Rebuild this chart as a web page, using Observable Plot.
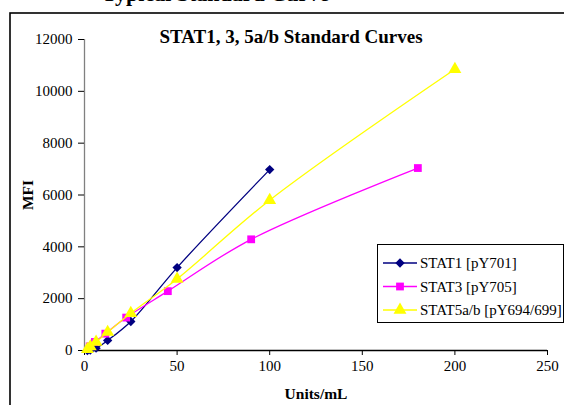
<!DOCTYPE html>
<html>
<head>
<meta charset="utf-8">
<script src="https://cdn.jsdelivr.net/npm/d3@7"></script>
<script src="https://cdn.jsdelivr.net/npm/@observablehq/plot@0.6"></script>
<style>
  html, body { margin: 0; padding: 0; background: #fff; }
  #chart { position: relative; width: 564px; height: 405px; overflow: hidden; }
</style>
</head>
<body>
<div id="chart"></div>
<script>
const seriesNames = ["STAT1 [pY701]", "STAT3 [pY705]", "STAT5a/b [pY694/699]"];
const seriesColors = ["#000080", "#FF00FF", "#FFFF00"];
const seriesSymbols = ["diamond2", "square", "triangle"];

const stat1Units = [1.56, 3.13, 6.25, 12.5, 25, 50, 100];
const stat1MFI   = [0, 20, 90, 390, 1120, 3200, 6980];

const stat3Units = [2.8, 5.6, 11.25, 22.5, 45, 90, 180];
const stat3MFI   = [160, 330, 650, 1270, 2290, 4290, 7040];

const stat5Units = [1.56, 3.13, 6.25, 12.5, 25, 50, 100, 200];
const stat5MFI   = [50, 150, 330, 710, 1440, 2760, 5800, 10850];

const xTicks = [0, 50, 100, 150, 200, 250];
const yTicks = [0, 2000, 4000, 6000, 8000, 10000, 12000];

const mainTitle = "Typical Standard Curve";
const chartTitle = "STAT1, 3, 5a/b Standard Curves";
const xLabel = "Units/mL";
const yLabel = "MFI";

const toRows = (u, v) => u.map((x, i) => ({x, y: v[i]}));
const series = [toRows(stat1Units, stat1MFI), toRows(stat3Units, stat3MFI), toRows(stat5Units, stat5MFI)];
const radii = [4.2, 4.4, 4.8];

const marks = [
  // outer chart border (its right and bottom edges fall outside the picture)
  Plot.frame({stroke: "#000", strokeWidth: 1.6, insetLeft: -74.5, insetTop: -26.5, insetRight: -40, insetBottom: -80}),
  Plot.ruleX([0], {stroke: "#808080", strokeWidth: 1.3}),
  Plot.ruleY([0], {stroke: "#000", strokeWidth: 1.3}),
  Plot.axisX({ticks: xTicks, tickSize: 5, tickPadding: 5, label: null, fontSize: 15, stroke: "#000"}),
  Plot.axisY({ticks: yTicks, tickSize: 6, tickPadding: 6, label: null, fontSize: 15, tickFormat: d => String(d), stroke: "#000"})
];
series.forEach((rows, i) => {
  marks.push(Plot.line(rows, {x: "x", y: "y", stroke: seriesColors[i], strokeWidth: 1.3, curve: "catmull-rom"}));
  marks.push(Plot.dot(rows, {x: "x", y: "y", symbol: () => seriesSymbols[i], fill: seriesColors[i], stroke: "none", r: radii[i]}));
});

const chart = Plot.plot({
  width: 564,
  height: 405,
  marginLeft: 84,
  marginRight: 17,
  marginTop: 39,
  marginBottom: 55,
  style: {fontFamily: "Liberation Serif", fontSize: "15px", color: "#000", background: "#fff"},
  x: {domain: [0, 250]},
  y: {domain: [0, 12000]},
  symbol: {type: "identity"},
  marks
});

const svg = d3.select(chart);
// cut off header
svg.append("text").attr("x", 102).attr("y", 0.5).attr("font-size", 22).attr("font-weight", "bold")
  .attr("text-anchor", "start").attr("font-family", "Liberation Serif").text(mainTitle);
// chart title
svg.append("text").attr("x", 291).attr("y", 43).attr("text-anchor", "middle").attr("font-size", 19)
  .attr("font-weight", "bold").attr("font-family", "Liberation Serif").text(chartTitle);
// axis labels
svg.append("text").attr("x", 316).attr("y", 399).attr("text-anchor", "middle").attr("font-size", 15.5)
  .attr("font-weight", "bold").attr("font-family", "Liberation Serif").text(xLabel);
svg.append("text").attr("transform", "translate(33,195) rotate(-90)").attr("text-anchor", "middle")
  .attr("font-size", 15.5).attr("font-weight", "bold").attr("font-family", "Liberation Serif").text(yLabel);

// legend
const lg = svg.append("g");
lg.append("rect").attr("x", 377.5).attr("y", 244.5).attr("width", 186).attr("height", 78)
  .attr("fill", "#fff").attr("stroke", "#000").attr("stroke-width", 1);
seriesNames.forEach((name, i) => {
  const y = 263 + i * 23.5;
  lg.append("line").attr("x1", 383).attr("x2", 417).attr("y1", y).attr("y2", y)
    .attr("stroke", seriesColors[i]).attr("stroke-width", 1.3);
  const sym = d3.symbol().type([d3.symbolDiamond2, d3.symbolSquare, d3.symbolTriangle][i])
    .size(Math.PI * radii[i] * radii[i]);
  lg.append("path").attr("d", sym()).attr("transform", `translate(400,${y})`).attr("fill", seriesColors[i]);
  lg.append("text").attr("x", 420).attr("y", y + 5).attr("font-size", 15).attr("text-anchor", "start")
    .attr("font-family", "Liberation Serif").text(name);
});

document.getElementById("chart").appendChild(chart);
</script>
</body>
</html>
